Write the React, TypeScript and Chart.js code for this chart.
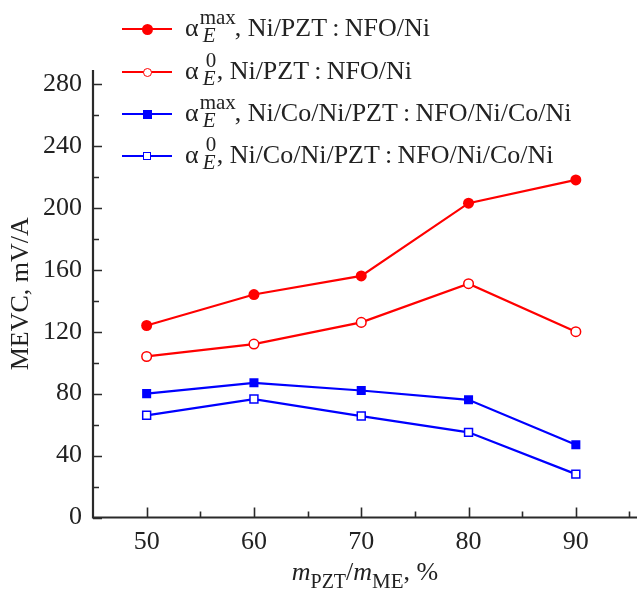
import React, { useEffect, useRef } from "react";
import { Chart, registerables } from "chart.js";

Chart.register(...registerables);

// ---- data ----
const categories = [50, 60, 70, 80, 90];
const maxNi = [124, 144, 156, 203, 218];
const zeroNi = [104, 112, 126, 151, 120];
const maxNiCo = [80, 87, 82, 76, 47];
const zeroNiCo = [66, 76.5, 65.5, 55, 28];
const yTicks = [0, 40, 80, 120, 160, 200, 240, 280];
const yMinorTicks = [20, 60, 100, 140, 180, 220, 260];
const xTicks = [50, 60, 70, 80, 90];
const xMinorTicks = [55, 65, 75, 85, 95];

const FONT = '"Liberation Serif", "Times New Roman", serif';
const TEXT = "#222";
const RED = "#ff0000";
const BLUE = "#0000ff";

const toXY = (vals: number[]) => categories.map((c, i) => ({ x: c, y: vals[i] }));

const innerTicks = {
  id: "innerTicks",
  afterDraw(chart: any) {
    const { ctx, chartArea, scales } = chart;
    const { left, right, top, bottom } = chartArea;
    const x = scales.x;
    const y = scales.y;
    ctx.save();
    ctx.strokeStyle = "#2a2a2a";
    ctx.lineWidth = 1.6;
    ctx.beginPath();
    xTicks.forEach((v) => {
      const p = Math.round(x.getPixelForValue(v)) + 0.5;
      ctx.moveTo(p, bottom);
      ctx.lineTo(p, bottom - 10);
    });
    xMinorTicks.forEach((v) => {
      const p = Math.round(x.getPixelForValue(v)) + 0.5;
      ctx.moveTo(p, bottom);
      ctx.lineTo(p, bottom - 6);
    });
    yTicks.forEach((v) => {
      const p = Math.round(y.getPixelForValue(v)) + 0.5;
      ctx.moveTo(left, p);
      ctx.lineTo(left + 9, p);
    });
    yMinorTicks.forEach((v) => {
      const p = Math.round(y.getPixelForValue(v)) + 0.5;
      ctx.moveTo(left, p);
      ctx.lineTo(left + 6, p);
    });
    ctx.stroke();
    ctx.lineWidth = 2.2;
    ctx.beginPath();
    ctx.moveTo(left, top);
    ctx.lineTo(left, bottom);
    ctx.lineTo(right, bottom);
    ctx.stroke();
    ctx.restore();
  },
};

type Row = {
  color: string;
  filled: boolean;
  square: boolean;
  sup: string;
  text: string;
  cy: number;
};

const legendRows: Row[] = [
  { color: RED, filled: true, square: false, sup: "max", text: "Ni/PZT\u2009:\u2009NFO/Ni", cy: 29 },
  { color: RED, filled: false, square: false, sup: "0", text: "Ni/PZT\u2009:\u2009NFO/Ni", cy: 72 },
  { color: BLUE, filled: true, square: true, sup: "max", text: "Ni/Co/Ni/PZT\u2009:\u2009NFO/Ni/Co/Ni", cy: 114 },
  { color: BLUE, filled: false, square: true, sup: "0", text: "Ni/Co/Ni/PZT\u2009:\u2009NFO/Ni/Co/Ni", cy: 156 },
];

const MAIN_BASE = 21.8; // baseline offset for 26px / 26px line height
const SCRIPT_BASE = 17.6; // baseline offset for 21px / 21px line height

function LegendRow({ r }: { r: Row }) {
  const size = r.square ? (r.filled ? 9 : 8) : r.filled ? 11 : 9;
  const isMax = r.sup === "max";
  return (
    <>
      <div
        style={{
          position: "absolute",
          left: 122,
          top: r.cy - 1,
          width: 50,
          height: 2,
          background: r.color,
        }}
      />
      <div
        style={{
          position: "absolute",
          left: 147 - size / 2,
          top: r.cy - size / 2,
          width: size,
          height: size,
          boxSizing: "border-box",
          borderRadius: r.square ? 0 : "50%",
          background: r.filled ? r.color : "#fff",
          border: r.filled ? "none" : `1.5px solid ${r.color}`,
        }}
      />
      <div
        style={{
          position: "absolute",
          left: 185,
          top: r.cy + 8 - MAIN_BASE,
          fontFamily: FONT,
          fontSize: 26,
          lineHeight: "26px",
          color: TEXT,
          whiteSpace: "nowrap",
        }}
      >
        <span>α</span>
        <span
          style={{
            display: "inline-block",
            position: "relative",
            width: isMax ? 35 : 17,
            height: 0,
            marginLeft: 1,
          }}
        >
          <span
            style={{
              position: "absolute",
              left: isMax ? 0 : 6,
              top: -12 - SCRIPT_BASE,
              fontSize: 21,
              lineHeight: "21px",
            }}
          >
            {r.sup}
          </span>
          <span
            style={{
              position: "absolute",
              left: 3,
              top: 6 - SCRIPT_BASE,
              fontSize: 21,
              lineHeight: "21px",
              fontStyle: "italic",
            }}
          >
            E
          </span>
        </span>
        <span>, {r.text}</span>
      </div>
    </>
  );
}

export default function App() {
  const canvasRef = useRef<HTMLCanvasElement | null>(null);

  useEffect(() => {
    if (!canvasRef.current) return;
    const chart = new Chart(canvasRef.current, {
      type: "line",
      data: {
        datasets: [
          {
            label: "maxNi",
            data: toXY(maxNi),
            borderColor: RED,
            backgroundColor: RED,
            borderWidth: 2.2,
            pointStyle: "circle",
            pointRadius: 5.5,
            pointBorderWidth: 0,
            pointBackgroundColor: RED,
            pointBorderColor: RED,
          },
          {
            label: "zeroNi",
            data: toXY(zeroNi),
            borderColor: RED,
            backgroundColor: "#fff",
            borderWidth: 2.2,
            pointStyle: "circle",
            pointRadius: 4.8,
            pointBorderWidth: 1.5,
            pointBackgroundColor: "#fff",
            pointBorderColor: RED,
          },
          {
            label: "maxNiCo",
            data: toXY(maxNiCo),
            borderColor: BLUE,
            backgroundColor: BLUE,
            borderWidth: 2.2,
            pointStyle: "rect",
            pointRadius: 6.4,
            pointBorderWidth: 0,
            pointBackgroundColor: BLUE,
            pointBorderColor: BLUE,
          },
          {
            label: "zeroNiCo",
            data: toXY(zeroNiCo),
            borderColor: BLUE,
            backgroundColor: "#fff",
            borderWidth: 2.2,
            pointStyle: "rect",
            pointRadius: 5.6,
            pointBorderWidth: 1.5,
            pointBackgroundColor: "#fff",
            pointBorderColor: BLUE,
          },
        ],
      },
      options: {
        animation: false,
        responsive: false,
        devicePixelRatio: 1,
        layout: { autoPadding: false, padding: { top: 70, left: 0, right: 0, bottom: 0 } },
        plugins: {
          legend: { display: false },
          tooltip: { enabled: false },
        },
        scales: {
          x: {
            type: "linear",
            min: 45,
            max: 95.7,
            grid: { display: false, drawTicks: false },
            border: { display: false },
            afterBuildTicks: (s: any) => {
              s.ticks = xTicks.map((v) => ({ value: v }));
            },
            afterFit: (s: any) => {
              s.height = 72.5;
            },
            ticks: {
              font: { family: FONT, size: 26 },
              color: TEXT,
              padding: 9,
              maxRotation: 0,
              autoSkip: false,
            },
          },
          y: {
            type: "linear",
            min: 0,
            max: 289,
            grid: { display: false, drawTicks: false },
            border: { display: false },
            afterBuildTicks: (s: any) => {
              s.ticks = yTicks.map((v) => ({ value: v }));
            },
            afterFit: (s: any) => {
              s.width = 93;
            },
            ticks: {
              font: { family: FONT, size: 26 },
              color: TEXT,
              padding: 11,
            },
            title: {
              display: true,
              text: "MEVC, mV/A",
              font: { family: FONT, size: 26 },
              color: TEXT,
              padding: { top: 6, bottom: 0 },
            },
          },
        },
      },
      plugins: [innerTicks],
    });
    return () => chart.destroy();
  }, []);

  return (
    <div
      style={{
        position: "absolute",
        left: 0,
        top: 0,
        width: 637,
        height: 590,
        overflow: "hidden",
        background: "#fff",
      }}
    >
      <canvas ref={canvasRef} width={637} height={590} style={{ position: "absolute", left: 0, top: 0 }} />
      {legendRows.map((r, i) => (
        <LegendRow key={i} r={r} />
      ))}
      <div
        style={{
          position: "absolute",
          left: 93,
          width: 544,
          top: 581 - MAIN_BASE,
          textAlign: "center",
          fontFamily: FONT,
          fontSize: 26,
          lineHeight: "26px",
          color: TEXT,
          whiteSpace: "nowrap",
        }}
      >
        <i>m</i>
        <span style={{ position: "relative", top: 8, fontSize: 20 }}>PZT</span>/<i>m</i>
        <span style={{ position: "relative", top: 8, fontSize: 21 }}>ME</span>, %
      </div>
    </div>
  );
}
